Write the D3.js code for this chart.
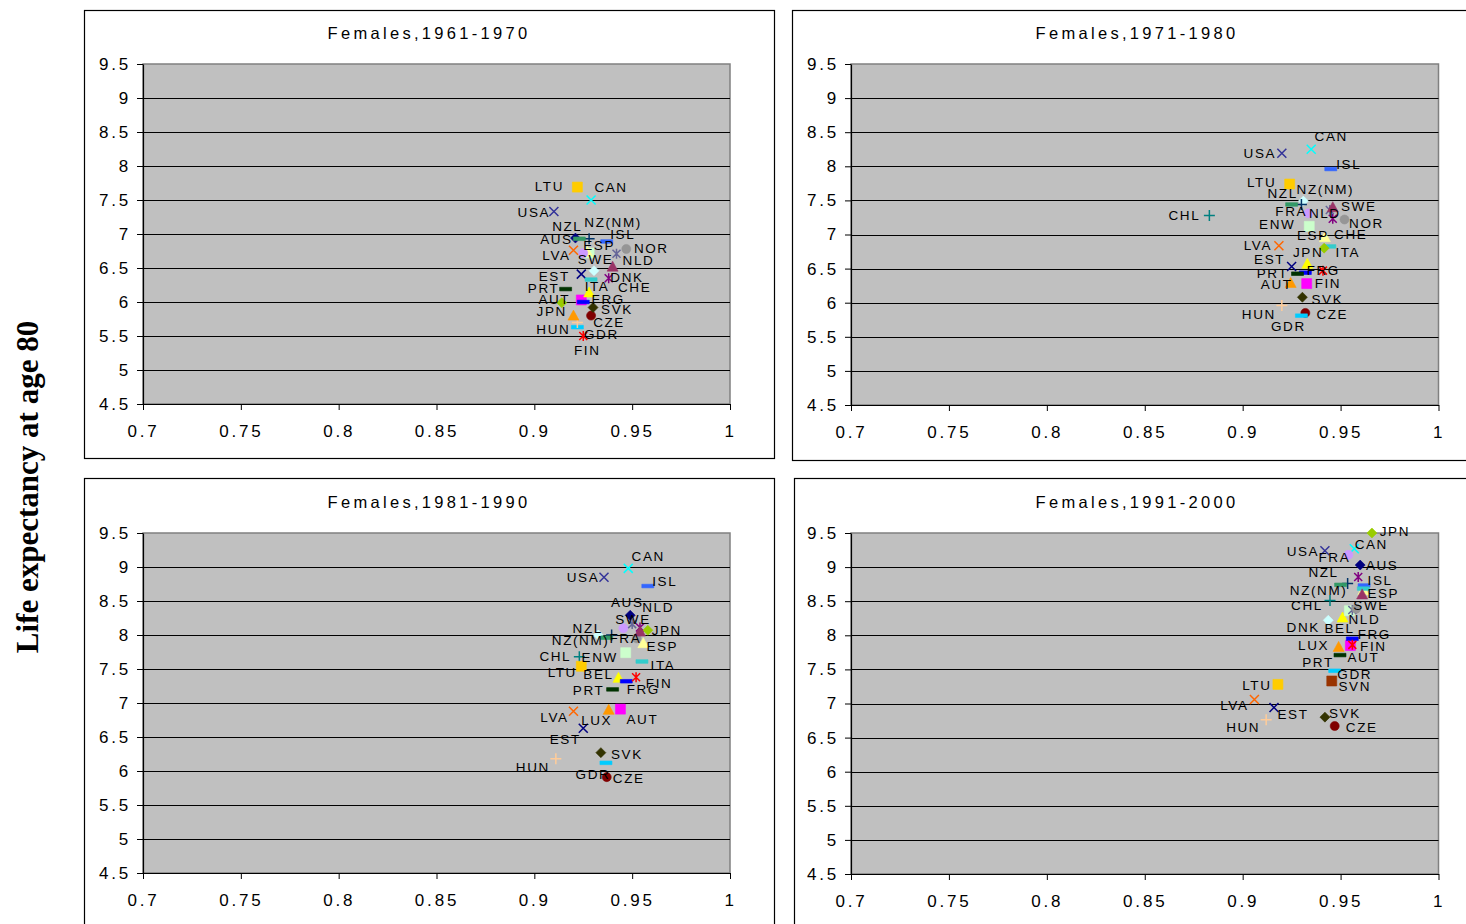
<!DOCTYPE html>
<html>
<head>
<meta charset="utf-8">
<script src="https://cdn.jsdelivr.net/npm/d3@7"></script>
<style>
  body { margin: 0; background: #fff; }
  svg { display: block; }
  text { font-family: "Liberation Sans", Arial, sans-serif; fill: #000; }
</style>
</head>
<body>
<svg id="chart" width="1466" height="924"></svg>
<script>
// ---- axis ticks and panel titles ----
const xTicks = [0.7, 0.75, 0.8, 0.85, 0.9, 0.95, 1];
const yTicks = [4.5, 5, 5.5, 6, 6.5, 7, 7.5, 8, 8.5, 9, 9.5];
const periodTitles = ["Females,1961-1970", "Females,1971-1980", "Females,1981-1990", "Females,1991-2000"];
const yAxisTitle = "Life expectancy at age 80";

// ---- 1961-1970 ----
const countries1961 = ["AUS","AUT","BEL","CAN","CHE","CZE","FRG","GDR","DNK","ENW","ESP","EST","FIN","FRA","HUN","ISL","ITA","JPN","LTU","LUX","LVA","NLD","NOR","NZ(NM)","NZL","PRT","SVK","SWE","USA"];
const ratio1961 = [0.921,0.924,0.928,0.929,0.938,0.929,0.925,0.922,0.9305,0.928,0.927,0.924,0.925,0.925,0.922,0.937,0.929,0.914,0.922,0.920,0.920,0.942,0.947,0.928,0.923,0.916,0.930,0.940,0.910];
const e80_1961 = [6.94,6.03,6.14,7.50,6.35,5.80,6.00,5.63,6.46,6.72,6.74,6.41,5.50,6.72,5.70,6.89,6.33,5.99,7.69,5.80,6.76,6.71,6.78,6.93,6.93,6.19,5.92,6.52,7.33];

// ---- 1971-1980 ----
const countries1971 = ["AUT","BEL","CAN","CHE","CZE","CHL","FRG","GDR","DNK","ENW","ESP","EST","FIN","FRA","HUN","ISL","ITA","JPN","LTU","LUX","LVA","NLD","NOR","NZ(NM)","NZL","PRT","SVK","SWE","USA"];
const ratio1971 = [0.9327,0.933,0.935,0.946,0.932,0.883,0.932,0.930,0.931,0.934,0.942,0.925,0.941,0.9335,0.920,0.945,0.9445,0.9416,0.924,0.9245,0.9185,0.9445,0.952,0.930,0.925,0.928,0.9305,0.946,0.920];
const e80_1971 = [6.28,6.57,8.25,7.23,5.85,7.28,6.44,5.81,7.49,7.12,6.96,6.53,6.47,7.31,5.96,7.96,6.825,6.80,7.74,6.29,6.835,7.36,7.22,7.44,7.44,6.425,6.08,7.40,8.19];

// ---- 1981-1990 ----
const countries1981 = ["AUS","AUT","BEL","CAN","CHE","CZE","CHL","FRG","GDR","DNK","ENW","ESP","EST","FIN","FRA","HUN","ISL","ITA","JPN","LTU","LUX","LVA","NLD","NOR","NZ(NM)","NZL","PRT","SVK","SWE","USA"];
const ratio1981 = [0.949,0.944,0.943,0.948,0.954,0.937,0.923,0.947,0.9366,0.9327,0.9467,0.9557,0.925,0.952,0.9455,0.911,0.958,0.955,0.958,0.924,0.938,0.920,0.950,0.9523,0.9395,0.937,0.940,0.934,0.954,0.9356];
const e80_1981 = [8.29,6.91,7.37,8.98,8.11,5.91,7.68,7.32,6.12,8.00,7.74,7.88,6.63,7.38,8.10,6.18,8.72,7.61,8.07,7.54,6.90,6.88,8.16,7.95,8.00,7.96,7.20,6.27,8.05,8.85];

// ---- 1991-2000 ----
const countries1991 = ["AUS","AUT","BEL","CAN","CHE","CZE","CHL","FRG","GDR","DNK","ENW","ESP","EST","FIN","FRA","HUN","ISL","ITA","JPN","LTU","LUX","LVA","NLD","NOR","NZ(NM)","NZL","PRT","SVK","SVN","SWE","USA"];
const ratio1991 = [0.960,0.955,0.951,0.957,0.959,0.947,0.9446,0.956,0.947,0.9437,0.9545,0.9616,0.916,0.956,0.954,0.912,0.962,0.9616,0.966,0.918,0.949,0.906,0.956,0.958,0.9536,0.950,0.9497,0.942,0.9455,0.961,0.942];
const e80_1991 = [9.03,7.85,8.26,9.27,8.855,6.67,8.51,7.95,7.48,8.22,8.36,8.66,6.94,7.86,9.18,6.76,8.73,8.685,9.50,7.28,7.83,7.06,8.37,8.39,8.76,8.74,7.71,6.80,7.33,8.60,9.24];

// ---- marker symbol and colour for each country ----
const markerStyle = {
  "AUS": ["diamond", "#000080"], "AUT": ["square", "#FF00FF"], "BEL": ["triangle", "#FFFF00"],
  "CAN": ["x", "#00FFFF"], "CHE": ["star", "#800080"], "CZE": ["circle", "#800000"],
  "CHL": ["plus", "#008080"], "FRG": ["dash", "#0000FF"], "GDR": ["dash", "#00CCFF"],
  "DNK": ["diamond", "#CCFFFF"], "ENW": ["square", "#CCFFCC"], "ESP": ["triangle", "#FFFF99"],
  "EST": ["x", "#000080"], "FIN": ["star", "#FF0000"], "FRA": ["circle", "#CC99FF"],
  "HUN": ["plus", "#FFCC99"], "ISL": ["dash", "#3366FF"], "ITA": ["dash", "#33CCCC"],
  "JPN": ["diamond", "#99CC00"], "LTU": ["square", "#FFCC00"], "LUX": ["triangle", "#FF9900"],
  "LVA": ["x", "#FF6600"], "NLD": ["star", "#666699"], "NOR": ["circle", "#969696"],
  "NZ(NM)": ["plus", "#003366"], "NZL": ["dash", "#339966"], "PRT": ["dash", "#003300"],
  "SVK": ["diamond", "#333300"], "SVN": ["square", "#993300"], "SWE": ["triangle", "#993366"],
  "USA": ["x", "#333399"]
};

// ---- data-label placement (pixel offset from the marker centre) ----
const labelOffsets = [
  { "AUS":[-19,1], "AUT":[-27,0], "CAN":[20,-13], "CHE":[26,9], "CZE":[18,7], "FRG":[25,-3], "GDR":[24,7],
    "DNK":[33,7], "ESP":[12,-6], "EST":[-27,2], "FIN":[4,14], "HUN":[-24,7], "ISL":[16,-7], "ITA":[6,7],
    "JPN":[-10,9], "LTU":[-28,-1], "LVA":[-17,5], "NLD":[22,7], "NOR":[25,0], "NZ(NM)":[24,-16],
    "NZL":[-12,-12], "PRT":[-22,-1], "SVK":[24,2], "SWE":[-17,-7], "USA":[-20,1] },
  { "AUT":[-30,1], "CAN":[20,-13], "CHE":[18,16], "CZE":[27,2], "CHL":[-25,0], "FRG":[18,-2], "GDR":[-13,11],
    "ENW":[-32,-2], "ESP":[-12,-2], "EST":[-22,-7], "FIN":[5,13], "FRA":[-17,-2], "HUN":[-23,9], "ISL":[18,-5],
    "ITA":[18,6], "JPN":[-16,4], "LTU":[-28,-2], "LVA":[-21,0], "NLD":[-5,4], "NOR":[22,4], "NZ(NM)":[24,-15],
    "NZL":[-9,-11], "PRT":[-25,0], "SVK":[25,2], "SWE":[26,-1], "USA":[-22,0] },
  { "AUS":[-3,-13], "AUT":[22,10], "BEL":[-20,-3], "CAN":[20,-12], "CZE":[22,1], "CHL":[-24,0], "FRG":[17,8],
    "GDR":[-13,12], "ENW":[-26,5], "ESP":[19,3], "EST":[-18,11], "FIN":[23,6], "FRA":[2,10], "HUN":[-23,9],
    "ISL":[17,-5], "ITA":[21,4], "JPN":[19,0], "LTU":[-19,6], "LUX":[-12,11], "LVA":[-19,6], "NLD":[26,-17],
    "NZ(NM)":[-31,5], "NZL":[-19,-9], "PRT":[-24,1], "SVK":[26,2], "SWE":[-7,-12], "USA":[-21,0] },
  { "AUS":[22,0], "AUT":[13,12], "BEL":[-3,11], "CAN":[17,-4], "CZE":[27,1], "CHL":[-23,5], "FRG":[22,-4],
    "GDR":[20,4], "DNK":[-25,7], "ESP":[20,3], "EST":[19,7], "FIN":[21,2], "FRA":[-14,3], "HUN":[-23,8],
    "ISL":[16,-5], "JPN":[23,-2], "LTU":[-21,1], "LUX":[-25,-1], "LVA":[-20,6], "NLD":[12,9], "NZ(NM)":[-29,7],
    "NZL":[-17,-12], "PRT":[-22,7], "SVK":[20,-4], "SVN":[23,6], "SWE":[9,11], "USA":[-22,1] }
];

// ---- panel layout: outer chart box and inner plot area [x0, y0, x1, y1] ----
const panelLayout = [
  { box: [84, 10, 774, 458],   plot: [143, 64, 730, 404],   titleX: 429,  titleY: 33 },
  { box: [792, 10, 1490, 460], plot: [851, 64, 1438.5, 405], titleX: 1137, titleY: 33 },
  { box: [84, 478, 774, 960],  plot: [143, 533, 730, 873],   titleX: 429,  titleY: 502 },
  { box: [794, 478, 1490, 960],plot: [851, 533, 1438.5, 874], titleX: 1137, titleY: 502 }
];

const panelData = [
  { countries: countries1961, x: ratio1961, y: e80_1961 },
  { countries: countries1971, x: ratio1971, y: e80_1971 },
  { countries: countries1981, x: ratio1981, y: e80_1981 },
  { countries: countries1991, x: ratio1991, y: e80_1991 }
];

const svg = d3.select("#chart");
svg.append("rect").attr("width", 1466).attr("height", 924).attr("fill", "#fff");

// marker glyphs
function markerPath(shape) {
  switch (shape) {
    case "diamond":  return "M0,-5L5,0L0,5L-5,0Z";
    case "square":   return "M-5,-5H5V5H-5Z";
    case "triangle": return "M0,-5.5L5.5,4.5H-5.5Z";
    case "circle":   return d3.symbol(d3.symbolCircle, 64)();
    case "x":        return "M-4.5,-4.5L4.5,4.5M-4.5,4.5L4.5,-4.5";
    case "star":     return "M-4,-4L4,4M-4,4L4,-4M0,-5V5";
    case "plus":     return "M-5.5,0H5.5M0,-5.5V5.5";
    case "dash":     return "M-6,-1.8H6V1.8H-6Z";
  }
}
const strokedShapes = new Set(["x", "star", "plus"]);

panelLayout.forEach((layout, i) => {
  const [bx0, by0, bx1, by1] = layout.box;
  const [px0, py0, px1, py1] = layout.plot;
  const g = svg.append("g");

  // chart box
  g.append("rect")
    .attr("x", bx0 + 0.5).attr("y", by0 + 0.5)
    .attr("width", bx1 - bx0).attr("height", by1 - by0)
    .attr("fill", "#fff").attr("stroke", "#000").attr("stroke-width", 1.2);

  const x = d3.scaleLinear().domain([0.7, 1]).range([px0, px1]);
  const y = d3.scaleLinear().domain([4.5, 9.5]).range([py1, py0]);

  // plot area
  g.append("rect")
    .attr("x", px0).attr("y", py0)
    .attr("width", px1 - px0).attr("height", py1 - py0)
    .attr("fill", "#C0C0C0").attr("stroke", "#808080").attr("stroke-width", 1.5);

  // horizontal gridlines
  g.append("g").selectAll("line")
    .data(yTicks.filter(v => v > 4.5 && v < 9.5))
    .join("line")
    .attr("x1", px0).attr("x2", px1)
    .attr("y1", d => Math.round(y(d)) + 0.5).attr("y2", d => Math.round(y(d)) + 0.5)
    .attr("stroke", "#000").attr("stroke-width", 1);

  // axes
  const yAxis = g.append("g")
    .attr("transform", `translate(${px0},0)`)
    .call(d3.axisLeft(y).tickValues(yTicks).tickFormat(d => String(d)).tickSize(6).tickSizeOuter(0).tickPadding(6));
  const xAxis = g.append("g")
    .attr("transform", `translate(0,${py1})`)
    .call(d3.axisBottom(x).tickValues(xTicks).tickFormat(d => String(d)).tickSize(6).tickSizeOuter(0).tickPadding(15));
  [yAxis, xAxis].forEach(ax => {
    ax.selectAll("path.domain").attr("stroke", "#000").attr("stroke-width", 1.2);
    ax.selectAll(".tick line").attr("stroke", "#000");
    ax.selectAll("text")
      .attr("font-family", "'Liberation Sans', Arial, sans-serif")
      .attr("font-size", 17).attr("fill", "#000")
      .style("letter-spacing", "2.8px");
  });

  // panel title
  g.append("text")
    .attr("x", layout.titleX).attr("y", layout.titleY)
    .attr("text-anchor", "middle").attr("dominant-baseline", "central")
    .attr("font-size", 16.5).style("letter-spacing", "3.3px")
    .text(periodTitles[i]);

  // points
  const data = panelData[i];
  const pts = data.countries.map((c, k) => ({ c, vx: data.x[k], vy: data.y[k] }));
  g.append("g").selectAll("path")
    .data(pts)
    .join("path")
    .attr("transform", d => `translate(${x(d.vx)},${y(d.vy)})`)
    .attr("d", d => markerPath(markerStyle[d.c][0]))
    .attr("fill", d => strokedShapes.has(markerStyle[d.c][0]) ? "none" : markerStyle[d.c][1])
    .attr("stroke", d => markerStyle[d.c][1])
    .attr("stroke-width", d => strokedShapes.has(markerStyle[d.c][0]) ? 1.5 : 0.6);

  // data labels
  const offs = labelOffsets[i];
  g.append("g").selectAll("text")
    .data(pts.filter(d => offs[d.c]))
    .join("text")
    .attr("x", d => x(d.vx) + offs[d.c][0])
    .attr("y", d => y(d.vy) + offs[d.c][1])
    .attr("text-anchor", "middle").attr("dominant-baseline", "central")
    .attr("font-size", 13.5).style("letter-spacing", "1.6px")
    .text(d => d.c);
});

// shared vertical axis title
svg.append("text")
  .attr("transform", "translate(38,487) rotate(-90)")
  .attr("text-anchor", "middle")
  .attr("font-weight", "bold").attr("font-size", 31)
  .style("font-family", "'Liberation Serif', 'Times New Roman', serif")
  .text(yAxisTitle);
</script>
</body>
</html>
